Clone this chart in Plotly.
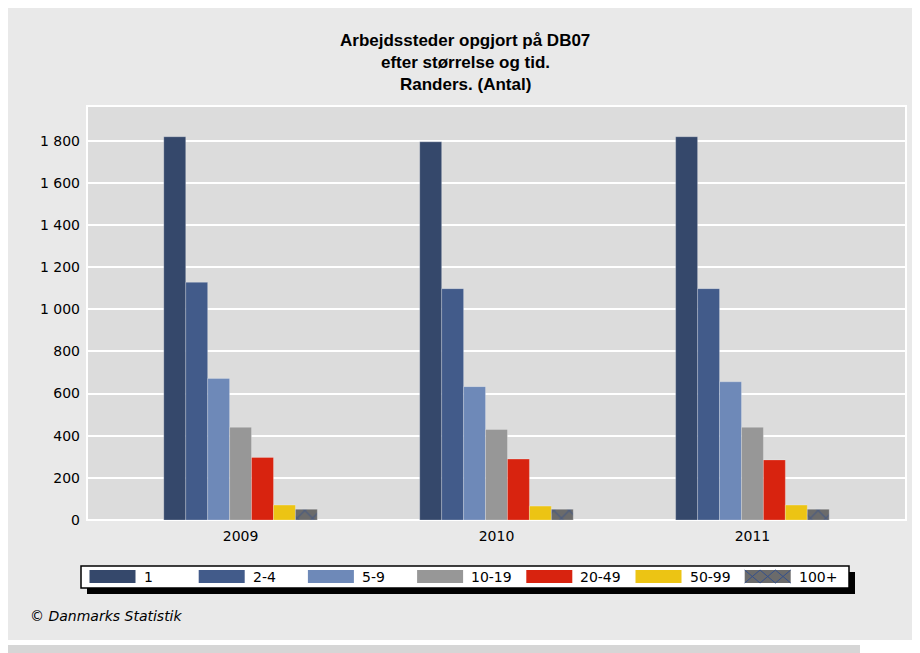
import plotly.graph_objects as go

# ---- data ----
years = ["2009", "2010", "2011"]
sizes = ["1", "2-4", "5-9", "10-19", "20-49", "50-99", "100+"]
v_1 = [1819, 1795, 1819]
v_2_4 = [1128, 1098, 1098]
v_5_9 = [672, 633, 656]
v_10_19 = [440, 430, 440]
v_20_49 = [297, 289, 285]
v_50_99 = [71, 66, 71]
v_100p = [51, 51, 51]
values = [v_1, v_2_4, v_5_9, v_10_19, v_20_49, v_50_99, v_100p]
y_ticks = [0, 200, 400, 600, 800, 1000, 1200, 1400, 1600, 1800]

colors = ["#35486b", "#425b8a", "#6e89b8", "#979797", "#d8230f", "#ecc414", "#6b6b6b"]
hatch_color = "#34508c"

# page body has an 8px margin -> figure placed at (8, 8)
OX, OY = 8, 8
W, H = 920 - OX, 653 - OY
# plot area in page pixels
PX0, PX1, PY0, PY1 = 87, 906, 106, 520
L, R, T, B = PX0 - OX, 920 - PX1, PY0 - OY, 653 - PY1
PW, PH = PX1 - PX0, PY1 - PY0


def px(x):
    return (x - PX0) / PW


def py(y):
    return (PY1 - y) / PH


fig = go.Figure()
for i, (name, vals) in enumerate(zip(sizes, values)):
    marker = dict(color=colors[i], line=dict(width=0.8, color="rgba(255,255,255,0.3)"))
    if name == "100+":
        marker["pattern"] = dict(shape="x", fgcolor=hatch_color, bgcolor=colors[i],
                                 size=11, solidity=0.25)
    fig.add_trace(go.Bar(x=years, y=vals, name=name, marker=marker, showlegend=False))

shapes = []
# outer gray panel
shapes.append(dict(type="rect", xref="paper", yref="paper", layer="below",
                   x0=px(8), x1=px(920), y0=py(640), y1=py(8),
                   fillcolor="#e9e9e9", line=dict(width=0)))
# bottom bar
shapes.append(dict(type="rect", xref="paper", yref="paper", layer="below",
                   x0=px(8), x1=px(860), y0=py(653), y1=py(645),
                   fillcolor="#d6d6d6", line=dict(width=0)))
# plot area background with white frame
shapes.append(dict(type="rect", xref="paper", yref="paper", layer="below",
                   x0=0, x1=1, y0=0, y1=1,
                   fillcolor="#dcdcdc", line=dict(width=2, color="white")))

# legend box with shadow
lx0, lx1, ly0, ly1 = 81, 849, 566, 588
shapes.append(dict(type="rect", xref="paper", yref="paper", layer="above",
                   x0=px(lx0 + 6), x1=px(lx1 + 6), y0=py(ly1 + 6), y1=py(ly0 + 6),
                   fillcolor="black", line=dict(width=0)))
shapes.append(dict(type="rect", xref="paper", yref="paper", layer="above",
                   x0=px(lx0), x1=px(lx1), y0=py(ly1), y1=py(ly0),
                   fillcolor="white", line=dict(width=1.5, color="black")))

annotations = []
sw_w, sw_top, sw_bot = 46, 570, 583
step = 109.2
for i, name in enumerate(sizes):
    sx = 89.5 + i * step
    shapes.append(dict(type="rect", xref="paper", yref="paper", layer="above",
                       x0=px(sx), x1=px(sx + sw_w), y0=py(sw_bot), y1=py(sw_top),
                       fillcolor=colors[i], line=dict(width=0)))
    if name == "100+":
        p = sw_w / 3
        for k in range(3):
            shapes.append(dict(type="line", xref="paper", yref="paper", layer="above",
                               x0=px(sx + k * p), x1=px(sx + (k + 1) * p),
                               y0=py(sw_top), y1=py(sw_bot),
                               line=dict(width=1, color=hatch_color)))
            shapes.append(dict(type="line", xref="paper", yref="paper", layer="above",
                               x0=px(sx + k * p), x1=px(sx + (k + 1) * p),
                               y0=py(sw_bot), y1=py(sw_top),
                               line=dict(width=1, color=hatch_color)))
    annotations.append(dict(text=name, xref="paper", yref="paper",
                            x=px(sx + sw_w + 6), y=py(577), xanchor="left", yanchor="middle",
                            showarrow=False,
                            font=dict(family="DejaVu Sans", size=14, color="black")))

# title lines
title_lines = ["Arbejdssteder opgjort på DB07", "efter størrelse og tid.", "Randers. (Antal)"]
for line, yy in zip(title_lines, [41, 63, 84]):
    annotations.append(dict(text="<b>" + line + "</b>", xref="paper", yref="paper",
                            x=px(465), y=py(yy), xanchor="center", yanchor="middle",
                            showarrow=False,
                            font=dict(family="Liberation Sans", size=17, color="black")))

annotations.append(dict(text="<i>© Danmarks Statistik</i>", xref="paper", yref="paper",
                        x=px(28), y=py(616), xanchor="left", yanchor="middle",
                        showarrow=False,
                        font=dict(family="DejaVu Sans", size=14, color="black")))

fig.update_layout(
    width=W, height=H,
    margin=dict(l=L, r=R, t=T, b=B, autoexpand=False),
    paper_bgcolor="white",
    plot_bgcolor="rgba(0,0,0,0)",
    barmode="group", bargap=0.4, bargroupgap=0,
    separators=", ",
    shapes=shapes,
    annotations=annotations,
    showlegend=False,
    xaxis=dict(type="category", range=[-0.6, 2.6], showgrid=False, zeroline=False,
               showline=False, ticks="", ticklabelstandoff=6,
               tickfont=dict(family="DejaVu Sans", size=14, color="black")),
    yaxis=dict(range=[0, 1965], tickvals=y_ticks, tickformat=",d",
               showgrid=True, gridcolor="white", gridwidth=1.5,
               zeroline=True, zerolinecolor="white", zerolinewidth=2,
               showline=False, ticks="", ticklabelstandoff=6,
               tickfont=dict(family="DejaVu Sans", size=14, color="black")),
)

fig.write_html("out.html")
